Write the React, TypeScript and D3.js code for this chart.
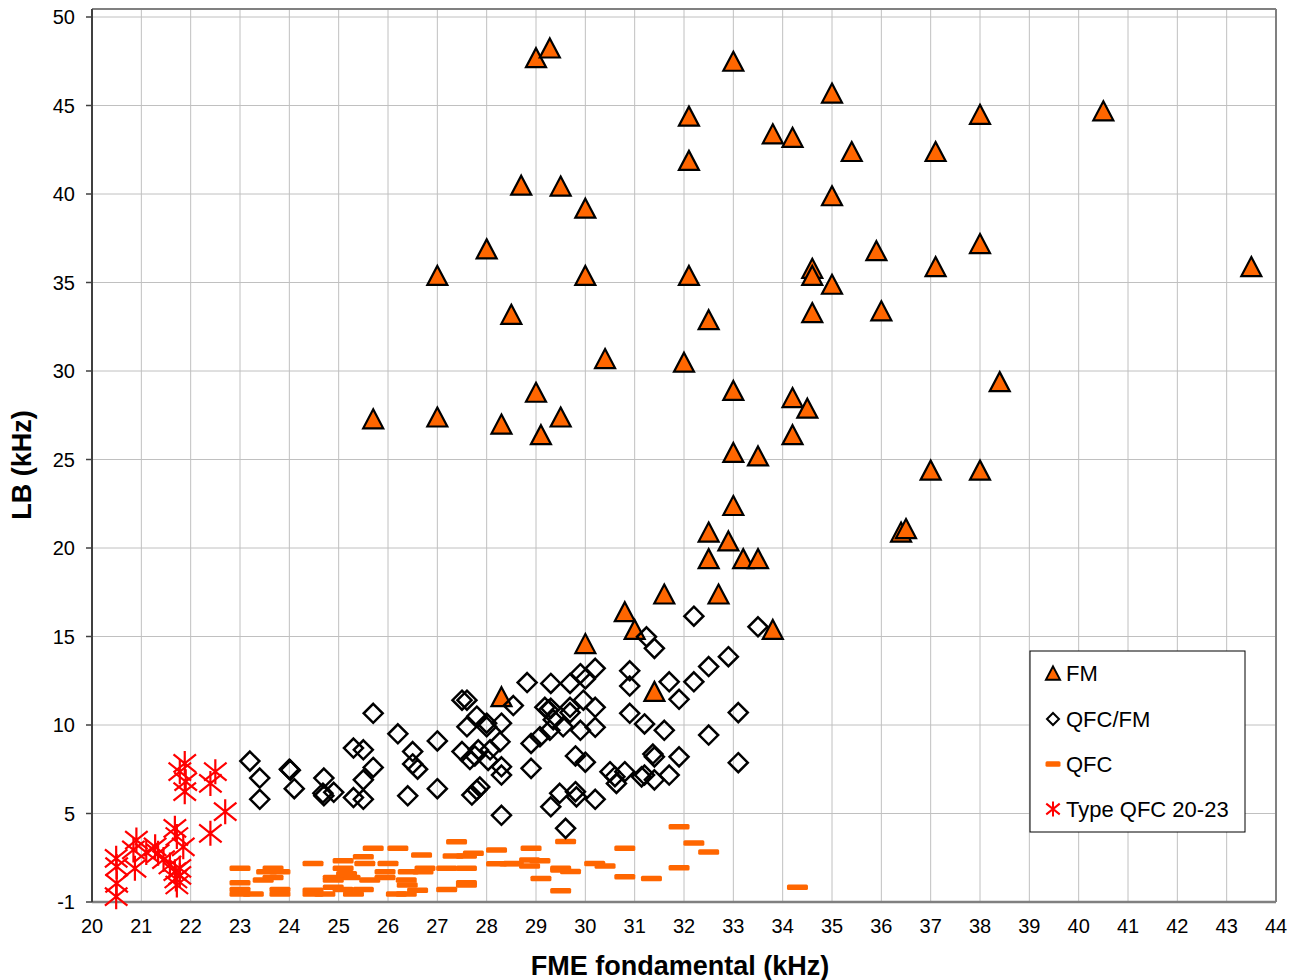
import React from "react";
import * as d3 from "d3";

// FM calls: [fundamental FME (kHz), bandwidth LB (kHz)]
const fmPoints: [number, number][] = [
  [40.5, 44.7], [43.5, 35.9], [29.0, 47.7], [29.28, 48.25], [33.0, 47.5], [35.0, 45.7],
  [32.1, 44.4], [38.0, 44.5], [33.8, 43.4], [34.2, 43.2], [35.4, 42.4], [37.1, 42.4],
  [32.1, 41.9], [28.7, 40.5], [29.5, 40.45], [35.0, 39.9], [30.0, 39.2], [28.0, 36.9],
  [38.0, 37.2], [35.9, 36.8], [27.0, 35.4], [30.0, 35.4], [32.1, 35.4], [37.1, 35.9],
  [34.6, 35.8], [34.6, 35.4], [35.0, 34.9], [28.5, 33.2], [32.5, 32.9], [34.6, 33.3],
  [36.0, 33.4], [30.4, 30.7], [32.0, 30.5], [38.4, 29.4], [29.0, 28.8], [33.0, 28.9],
  [34.2, 28.5], [34.5, 27.9], [25.7, 27.3], [27.0, 27.4], [29.5, 27.4], [28.3, 27.0],
  [29.1, 26.4], [34.2, 26.4], [33.0, 25.4], [33.5, 25.2], [37.0, 24.4], [38.0, 24.4],
  [36.4, 20.9], [36.5, 21.1], [33.0, 22.4], [32.5, 20.9], [32.9, 20.4], [32.5, 19.4],
  [33.2, 19.4], [33.5, 19.4], [31.6, 17.4], [32.7, 17.4], [30.8, 16.4], [31.0, 15.4],
  [33.8, 15.4], [30.0, 14.6], [31.4, 11.9], [28.3, 11.6],
];

// QFC/FM calls
const qfcFmPoints: [number, number][] = [
  [23.2, 7.96], [23.4, 7.0], [23.4, 5.8], [24.0, 7.5], [24.02, 7.45], [24.1, 6.4],
  [24.7, 7.0], [24.68, 6.15], [24.7, 6.0], [24.9, 6.2], [25.7, 10.66], [25.3, 8.7],
  [25.5, 8.6], [25.7, 7.6], [25.5, 6.9], [25.3, 5.9], [25.5, 5.8], [26.2, 9.5],
  [26.5, 8.5], [26.5, 7.8], [26.6, 7.5], [26.4, 6.0], [27.0, 9.1], [27.0, 6.4],
  [27.5, 11.4], [27.6, 11.4], [27.6, 9.9], [27.8, 10.5], [28.0, 10.1], [28.0, 9.9],
  [28.3, 10.1], [27.5, 8.5], [27.66, 8.05], [27.76, 8.25], [27.83, 8.6], [28.03, 8.0],
  [28.07, 8.6], [28.27, 9.05], [28.3, 7.64], [28.3, 7.17], [27.7, 6.04], [27.8, 6.33],
  [27.86, 6.5], [28.3, 4.9], [28.54, 11.1], [28.82, 12.4], [29.3, 12.35], [29.69, 12.35],
  [29.9, 12.9], [30.0, 12.6], [30.2, 13.2], [30.9, 13.06], [30.9, 12.2], [29.18, 11.0],
  [29.25, 10.85], [29.3, 10.94], [29.69, 11.0], [29.96, 11.4], [30.2, 11.0], [29.35, 10.3],
  [29.55, 9.9], [29.69, 10.7], [29.9, 9.7], [30.2, 9.87], [28.9, 8.96], [29.08, 9.34],
  [29.28, 9.7], [30.9, 10.66], [31.2, 10.06], [29.8, 8.25], [30.0, 7.9], [28.9, 7.55],
  [30.5, 7.36], [30.6, 7.08], [30.8, 7.36], [30.63, 6.7], [31.14, 7.07], [29.48, 6.14],
  [29.8, 6.23], [29.82, 5.94], [29.3, 5.38], [30.2, 5.8], [29.6, 4.16], [32.2, 16.15],
  [33.5, 15.55], [31.24, 14.98], [31.4, 14.33], [32.9, 13.86], [32.5, 13.3], [31.7, 12.44],
  [32.2, 12.44], [31.9, 11.45], [33.1, 10.7], [31.6, 9.7], [32.5, 9.43], [31.37, 8.36],
  [31.4, 8.2], [31.9, 8.2], [33.1, 7.87], [31.2, 7.17], [31.4, 6.9], [31.7, 7.17],
];

// QFC calls
const qfcPoints: [number, number][] = [
  [23.0, 1.9], [23.67, 1.9], [23.54, 1.71], [23.81, 1.71], [23.67, 1.39], [23.47, 1.24],
  [23.0, 1.09], [23.0, 0.71], [23.81, 0.71], [23.0, 0.45], [23.27, 0.45], [23.81, 0.45],
  [24.48, 2.18], [24.89, 1.39], [25.23, 1.39], [24.89, 1.24], [24.89, 0.83], [24.48, 0.66],
  [24.48, 0.45], [24.72, 0.45], [25.09, 2.33], [25.09, 1.9], [25.16, 1.6], [25.53, 2.18],
  [25.5, 2.56], [25.7, 3.03], [25.63, 1.24], [25.09, 0.71], [25.5, 0.71], [25.3, 0.45],
  [26.0, 2.18], [26.2, 3.03], [26.68, 2.65], [25.94, 1.71], [25.94, 1.39], [26.41, 1.71],
  [26.71, 1.71], [26.75, 1.9], [26.39, 0.96], [26.37, 1.24], [26.17, 0.45], [26.37, 0.45],
  [26.6, 0.66], [27.39, 3.4], [27.32, 2.6], [27.59, 2.6], [27.73, 2.75], [28.2, 2.94],
  [28.2, 2.16], [28.47, 2.16], [27.19, 1.9], [27.59, 1.9], [27.59, 1.09], [27.59, 0.96],
  [27.19, 0.71], [28.9, 3.03], [28.87, 2.37], [29.08, 2.33], [28.54, 2.18], [28.87, 2.03],
  [29.1, 1.33], [29.5, 0.63], [29.6, 3.42], [29.5, 1.9], [29.5, 1.81], [29.7, 1.73],
  [30.19, 2.18], [30.4, 2.03], [30.8, 3.03], [30.8, 1.43], [31.34, 1.33], [31.9, 4.25],
  [31.9, 1.93], [32.2, 3.34], [32.5, 2.82], [34.3, 0.83],
];

// Type QFC 20-23 calls
const typeQfcPoints: [number, number][] = [
  [21.88, 7.83], [21.78, 7.36], [21.9, 6.8], [21.88, 6.23], [22.5, 7.36], [22.4, 6.7],
  [22.7, 5.1], [22.4, 3.88], [21.68, 4.16], [21.72, 3.7], [20.9, 3.5], [20.84, 2.94],
  [21.28, 3.12], [21.34, 2.75], [21.85, 3.12], [20.49, 2.47], [20.5, 2.0], [20.87, 1.9],
  [21.58, 2.09], [21.68, 1.71], [21.78, 1.9], [21.72, 0.96], [20.5, 1.05], [20.49, 0.3],
  [21.78, 1.5], [21.1, 2.8], [21.45, 2.4], [21.7, 1.3],
];

const xTicks = d3.range(20, 45, 1);
const yTickValues = d3.range(0, 55, 5);
const yTickLabels = ["-1", "5", "10", "15", "20", "25", "30", "35", "40", "45", "50"];

const legendItems = ["FM", "QFC/FM", "QFC", "Type QFC 20-23"];

const FONT = "'Liberation Sans', Arial, sans-serif";
const ORANGE = "#FF6600";
const RED = "#FF0000";

const plot = { left: 92, right: 1276, top: 9, bottom: 902 };

const x = d3.scaleLinear().domain([20, 44]).range([plot.left, plot.right]);
const y = d3.scaleLinear().domain([0, 50]).range([plot.bottom, 17]);

const triPath = (s: number) => `M0,${-s * 0.95}L${s},${s * 0.95}L${-s},${s * 0.95}Z`;
const diamondPath = (s: number) => `M0,${-s}L${s},0L0,${s}L${-s},0Z`;
const starPath = (s: number) =>
  `M0,${-s}L0,${s}M${-s * 0.9},${-s * 0.72}L${s * 0.9},${s * 0.72}M${-s * 0.9},${s * 0.72}L${s * 0.9},${-s * 0.72}`;

function Triangle({ cx, cy, s, sw = 2.2 }: { cx: number; cy: number; s: number; sw?: number }) {
  return (
    <path d={triPath(s)} transform={`translate(${cx},${cy})`} fill={ORANGE} stroke="#000" strokeWidth={sw} strokeLinejoin="miter" />
  );
}
function Diamond({ cx, cy, s, sw = 2.5 }: { cx: number; cy: number; s: number; sw?: number }) {
  return <path d={diamondPath(s)} transform={`translate(${cx},${cy})`} fill="none" stroke="#000" strokeWidth={sw} />;
}
function Dash({ cx, cy, w }: { cx: number; cy: number; w: number }) {
  return <rect x={cx - w / 2} y={cy - 2.75} width={w} height={5.5} rx={1.5} fill={ORANGE} />;
}
function Star({ cx, cy, s, sw = 2.2 }: { cx: number; cy: number; s: number; sw?: number }) {
  return <path d={starPath(s)} transform={`translate(${cx},${cy})`} fill="none" stroke={RED} strokeWidth={sw} />;
}

export default function App() {
  const W = 1303;
  const H = 980;
  const legend = { x: 1030, y: 651, w: 215, h: 181 };
  const legendRowY = [673, 719, 764, 809];

  return (
    <svg
      width={W}
      height={H}
      style={{ position: "absolute", left: 0, top: 0, background: "#fff", fontFamily: FONT }}
    >
      <rect x={0} y={0} width={W} height={H} fill="#fff" />

      {/* gridlines */}
      {xTicks.slice(1, -1).map((t) => (
        <line key={`gx${t}`} x1={x(t)} x2={x(t)} y1={plot.top} y2={plot.bottom} stroke="#c0c0c0" strokeWidth={1} />
      ))}
      {yTickValues.slice(1).map((t) => (
        <line key={`gy${t}`} x1={plot.left} x2={plot.right} y1={y(t)} y2={y(t)} stroke="#c0c0c0" strokeWidth={1} />
      ))}

      {/* plot frame */}
      <line x1={plot.left} x2={plot.right} y1={plot.top} y2={plot.top} stroke="#808080" strokeWidth={2} />
      <line x1={plot.right} x2={plot.right} y1={plot.top} y2={plot.bottom} stroke="#808080" strokeWidth={2} />
      <line x1={plot.left} x2={plot.right} y1={plot.bottom} y2={plot.bottom} stroke="#808080" strokeWidth={2.5} />
      <line x1={plot.left} x2={plot.left} y1={plot.top} y2={plot.bottom} stroke="#404040" strokeWidth={2} />

      {/* y ticks and labels */}
      {yTickValues.map((t, i) => (
        <g key={`yt${t}`}>
          <line x1={plot.left - 6} x2={plot.left} y1={y(t)} y2={y(t)} stroke="#404040" strokeWidth={1.5} />
          <text x={75} y={y(t)} dy="0.36em" textAnchor="end" fontSize={20} fill="#000">
            {yTickLabels[i]}
          </text>
        </g>
      ))}

      {/* x tick labels */}
      {xTicks.map((t) => (
        <text key={`xt${t}`} x={x(t)} y={933} textAnchor="middle" fontSize={20} fill="#000">
          {t}
        </text>
      ))}

      {/* axis titles */}
      <text x={680} y={975} textAnchor="middle" fontSize={27} fontWeight="bold" fill="#000">
        FME fondamental (kHz)
      </text>
      <text
        transform={`translate(31,${465}) rotate(-90)`}
        textAnchor="middle"
        fontSize={27}
        fontWeight="bold"
        fill="#000"
      >
        LB (kHz)
      </text>

      {/* series */}
      <g>
        {qfcPoints.map(([a, b], i) => (
          <Dash key={`q${i}`} cx={x(a)} cy={y(b)} w={21} />
        ))}
      </g>
      <g>
        {fmPoints.map(([a, b], i) => (
          <Triangle key={`f${i}`} cx={x(a)} cy={y(b)} s={10} />
        ))}
      </g>
      <g>
        {qfcFmPoints.map(([a, b], i) => (
          <Diamond key={`d${i}`} cx={x(a)} cy={y(b)} s={9.5} />
        ))}
      </g>
      <g>
        {typeQfcPoints.map(([a, b], i) => (
          <Star key={`s${i}`} cx={x(a)} cy={y(b)} s={12.5} />
        ))}
      </g>

      {/* legend */}
      <rect x={legend.x} y={legend.y} width={legend.w} height={legend.h} fill="#fff" stroke="#000" strokeWidth={1} />
      <Triangle cx={1053} cy={legendRowY[0]} s={7} sw={2} />
      <Diamond cx={1053} cy={legendRowY[1]} s={6} sw={2} />
      <Dash cx={1053} cy={legendRowY[2]} w={15} />
      <Star cx={1053} cy={legendRowY[3]} s={7.5} sw={2} />
      {legendItems.map((label, i) => (
        <text key={label} x={1066} y={legendRowY[i]} dy="0.36em" fontSize={22} fill="#000">
          {label}
        </text>
      ))}
    </svg>
  );
}
